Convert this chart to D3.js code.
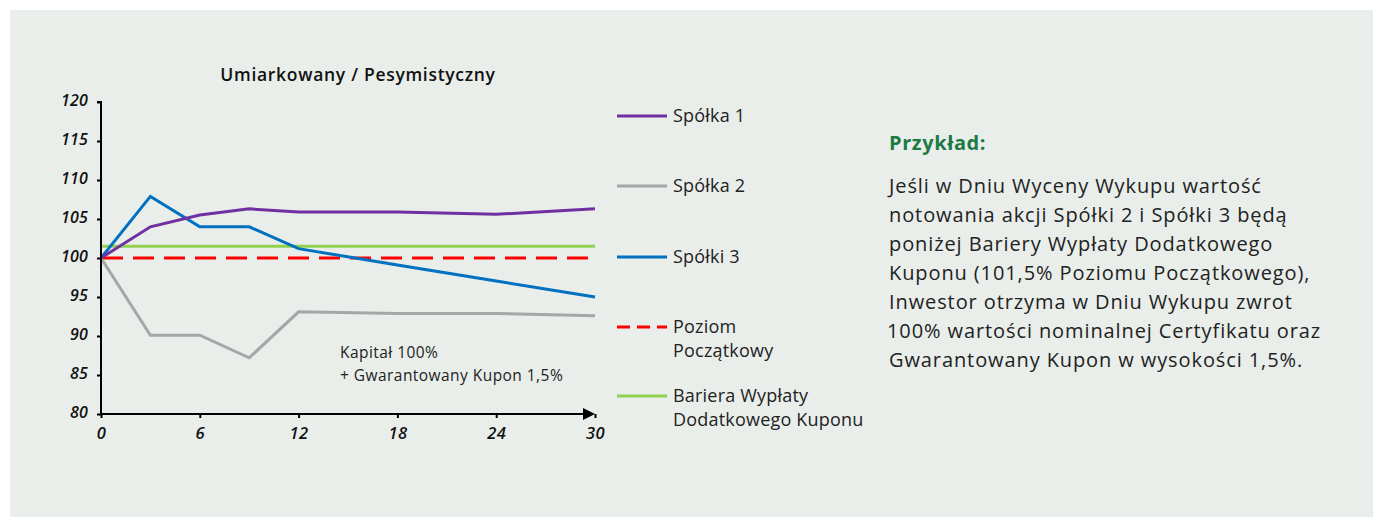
<!DOCTYPE html>
<html>
<head>
<meta charset="utf-8">
<script src="https://cdn.jsdelivr.net/npm/d3@7"></script>
<style>
  body { margin: 0; background: #fff; }
  svg text { font-family: "Open Sans", sans-serif; }
</style>
</head>
<body>
<svg id="chart" width="1373" height="519"></svg>
<script>
const months = [0, 3, 6, 9, 12, 18, 24, 30]
const spolka1 = [100, 104, 105.5, 106.3, 105.9, 105.9, 105.6, 106.3]
const spolka2 = [100, 90.1, 90.1, 87.2, 93.1, 92.9, 92.9, 92.6]
const spolka3 = [100, 107.9, 104, 104, 101.2, 99.1, 97.05, 95]
const poziom = 100
const bariera = 101.5
const xTicks = [0, 6, 12, 18, 24, 30]
const yTicks = [80, 85, 90, 95, 100, 105, 110, 115, 120]

const svg = d3.select('#chart')

svg.append('rect')
  .attr('x', 10).attr('y', 10)
  .attr('width', 1363).attr('height', 507)
  .attr('fill', '#e9eeea')

const x = d3.scaleLinear().domain([0, 30]).range([101, 595])
const y = d3.scaleLinear().domain([80, 120]).range([414, 102])

const g = svg.append('g')

// title
g.append('text')
  .attr('x', 358).attr('y', 81)
  .attr('text-anchor', 'middle')
  .attr('font-size', 17.5)
  .attr('font-weight', 600)
  .attr('letter-spacing', 0.7)
  .attr('fill', '#111')
  .text('Umiarkowany / Pesymistyczny')

// reference lines
g.append('line')
  .attr('x1', x(0)).attr('x2', x(30))
  .attr('y1', y(bariera)).attr('y2', y(bariera))
  .attr('stroke', '#92d050').attr('stroke-width', 3)

g.append('line')
  .attr('x1', x(0) + 1).attr('x2', x(30))
  .attr('y1', y(poziom)).attr('y2', y(poziom))
  .attr('stroke', '#ff0000').attr('stroke-width', 3)
  .attr('stroke-dasharray', '21,10')

const line = d3.line()
  .x((d, i) => x(months[i]))
  .y(d => y(d))

const series = [
  { name: 'Spółka 2', values: spolka2, color: '#a6a6a6' },
  { name: 'Spółki 3', values: spolka3, color: '#0070c0' },
  { name: 'Spółka 1', values: spolka1, color: '#7030a0' }
]

series.forEach(s => {
  g.append('path')
    .attr('d', line(s.values))
    .attr('fill', 'none')
    .attr('stroke', s.color)
    .attr('stroke-width', 3)
    .attr('stroke-linejoin', 'miter')
})

// axes
const yAxis = d3.axisLeft(y).tickValues(yTicks).tickSize(4).tickPadding(9)
const ya = g.append('g').attr('transform', `translate(${x(0)},0)`).call(yAxis)
ya.select('.domain').attr('stroke', '#000').attr('stroke-width', 2)
  .attr('d', `M-4,${y(120)}H0V${y(80)}`)
ya.selectAll('.tick line').attr('stroke', '#000').attr('stroke-width', 2)
ya.selectAll('.tick text')
  .attr('font-size', 16).attr('font-style', 'italic').attr('font-weight', 600)
  .attr('letter-spacing', 0.2)
  .attr('fill', '#111').attr('dy', '0.2em')

const xAxis = d3.axisBottom(x).tickValues(xTicks).tickSize(4).tickPadding(9)
const xa = g.append('g').attr('transform', `translate(0,${y(80)})`).call(xAxis)
xa.select('.domain').attr('stroke', '#000').attr('stroke-width', 2)
  .attr('d', `M${x(0)},0H${x(30) - 10}`)
xa.selectAll('.tick line').attr('stroke', '#000').attr('stroke-width', 2)
xa.selectAll('.tick text')
  .attr('font-size', 16.5).attr('font-style', 'italic').attr('font-weight', 600)
  .attr('letter-spacing', 0.4)
  .attr('fill', '#111')
xa.append('path')
  .attr('d', `M${x(30) - 12},-6L${x(30)},0L${x(30) - 12},6Z`)
  .attr('fill', '#000')

// annotation
const ann = g.append('text')
  .attr('font-size', 15.5).attr('letter-spacing', 0.45).attr('fill', '#222')
ann.append('tspan').attr('x', 340).attr('y', 358).text('Kapitał 100%')
ann.append('tspan').attr('x', 340).attr('y', 381).text('+ Gwarantowany Kupon 1,5%')

// legend
const legend = [
  { lines: ['Spółka 1'], color: '#7030a0', y: 116 },
  { lines: ['Spółka 2'], color: '#a6a6a6', y: 186 },
  { lines: ['Spółki 3'], color: '#0070c0', y: 257 },
  { lines: ['Poziom', 'Początkowy'], color: '#ff0000', y: 327, dash: '13,7' },
  { lines: ['Bariera Wypłaty', 'Dodatkowego Kuponu'], color: '#92d050', y: 396 }
]
const lg = g.append('g')
legend.forEach(l => {
  lg.append('line')
    .attr('x1', 617).attr('x2', 667)
    .attr('y1', l.y).attr('y2', l.y)
    .attr('stroke', l.color).attr('stroke-width', 3)
    .attr('stroke-dasharray', l.dash || null)
  const t = lg.append('text').attr('font-size', 18).attr('letter-spacing', 0.2).attr('fill', '#222')
  l.lines.forEach((s, i) => {
    t.append('tspan').attr('x', 673).attr('y', l.y + 6 + i * 24).text(s)
  })
})

// side text
g.append('text')
  .attr('x', 889).attr('y', 150)
  .attr('font-size', 20).attr('font-weight', 700).attr('letter-spacing', 0.6)
  .attr('fill', '#1d7a45')
  .text('Przykład:')

const para = [
  'Jeśli w Dniu Wyceny Wykupu wartość',
  'notowania akcji Spółki 2 i Spółki 3 będą',
  'poniżej Bariery Wypłaty Dodatkowego',
  'Kuponu (101,5% Poziomu Początkowego),',
  'Inwestor otrzyma w Dniu Wykupu zwrot',
  '100% wartości nominalnej Certyfikatu oraz',
  'Gwarantowany Kupon w wysokości 1,5%.'
]
const pt = g.append('text').attr('font-size', 20).attr('letter-spacing', 0.9).attr('fill', '#222')
para.forEach((s, i) => {
  pt.append('tspan').attr('x', i === 5 ? 887 : 889).attr('y', 193 + i * 29).text(s)
})
</script>
</body>
</html>
